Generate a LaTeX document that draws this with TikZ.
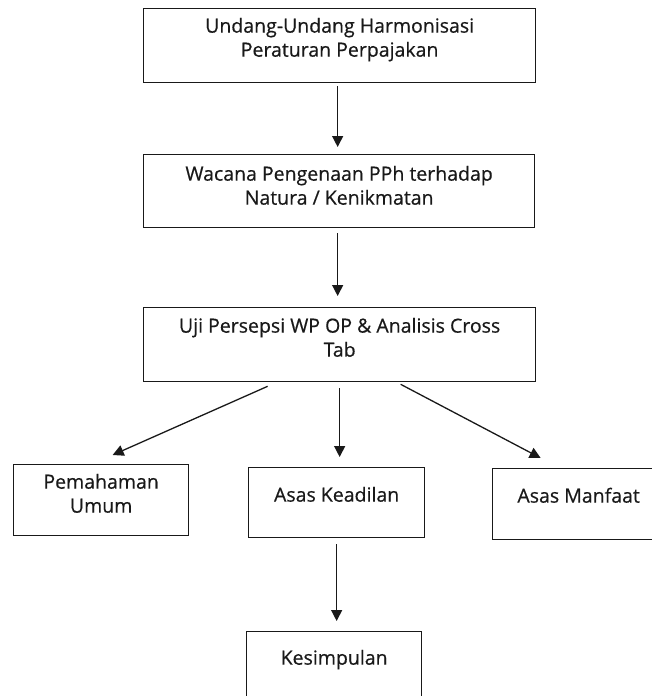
\documentclass[tikz,border=0pt]{standalone}
\usepackage{fontspec}
\setmainfont{Open Sans}
\newfontfamily\boxfont{Open Sans}[FakeBold=0.5]
\usetikzlibrary{arrows.meta}
\newcommand\bxt[4]{\parbox[b][#2][t]{#1}{\centering\vspace*{#3}\strut #4\par}}
\begin{document}
\begin{tikzpicture}[x=1pt,y=-1pt,
  box/.style={draw=black!90, line width=1.3pt, inner sep=0pt, anchor=north west,
    font=\boxfont\fontsize{19.5pt}{24pt}\selectfont, text=black!90},
  arr/.style={draw=black!90, line width=1.3pt, -{Triangle[width=11pt,length=11pt]}}]
\useasboundingbox (0,0) rectangle (652,696);
\clip (0,0) rectangle (652,696);
\node[box] (b1) at (143,8) {\bxt{392pt}{74pt}{7.2pt}{Undang-Undang Harmonisasi\\Peraturan Perpajakan}};
\node[box] (b2) at (143,154) {\bxt{391pt}{73pt}{9.2pt}{Wacana Pengenaan PPh terhadap\\Natura / Kenikmatan}};
\node[box] (b3) at (143,307) {\bxt{392pt}{74pt}{8.2pt}{Uji Persepsi WP OP \& Analisis Cross\\Tab}};
\node[box] (pem) at (13,464) {\bxt{175pt}{71pt}{7.2pt}{Pemahaman\\Umum}};
\node[box] (kea) at (248,467) {\bxt{176pt}{70pt}{17.2pt}{Asas Keadilan}};
\node[box] (man) at (492,468) {\bxt{172pt}{71pt}{17.2pt}{Asas Manfaat}};
\node[box] (kes) at (246,631) {\bxt{175pt}{75pt}{16.2pt}{Kesimpulan}};
\draw[arr] ([xshift=-2pt,yshift=-3pt]b1.south) -- ([xshift=-1.5pt,yshift=7pt]b2.north);
\draw[arr] ([xshift=-1.5pt,yshift=-5pt]b2.south) -- ([xshift=-2pt,yshift=11pt]b3.north);
\draw[arr] ([xshift=-72pt,yshift=-4pt]b3.south) -- ([xshift=11.5pt,yshift=9pt]pem.north);
\draw[arr] ([yshift=-6pt]b3.south) -- ([xshift=3pt,yshift=10pt]kea.north);
\draw[arr] ([xshift=61pt,yshift=-2pt]b3.south) -- ([xshift=-38pt,yshift=10pt]man.north);
\draw[arr] ([yshift=-6pt]kea.south) -- ([xshift=2.5pt,yshift=10pt]kes.north);
\end{tikzpicture}
\end{document}
